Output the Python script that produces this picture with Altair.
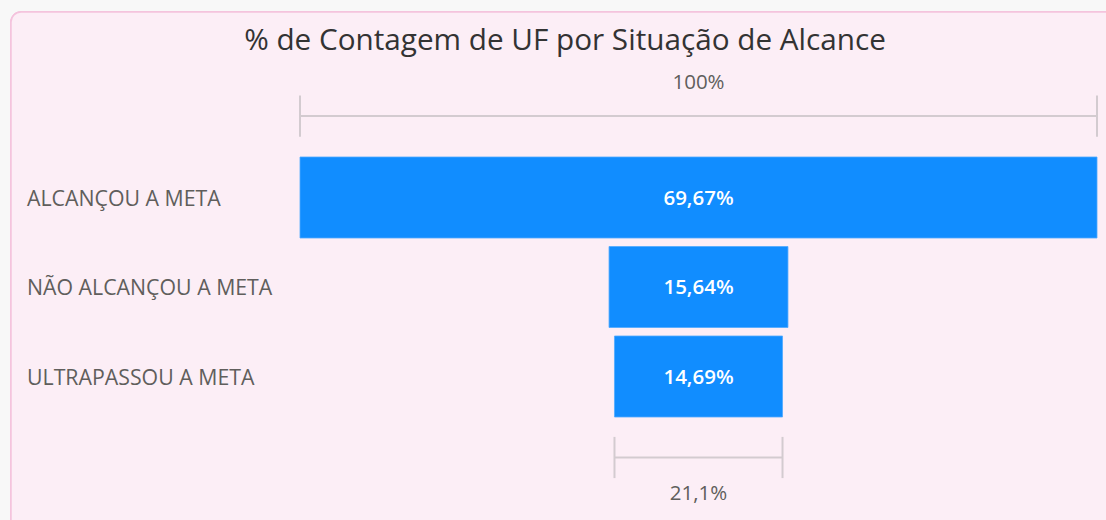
import altair as alt
import pandas as pd

# ---- data ----
categories = ["ALCANÇOU A META", "NÃO ALCANÇOU A META", "ULTRAPASSOU A META"]
values = [69.67, 15.64, 14.69]
rows = [1, 2, 3]
title_text = "% de Contagem de UF por Situação de Alcance"

def fmt(v, d):
    return f"{v:.{d}f}".replace(".", ",") + "%"

vmax = max(values)
first_pct = 100
last_pct = values[-1] / values[0] * 100

bars = pd.DataFrame({
    "cat": categories,
    "val": values,
    "row": rows,
    "lbl": [fmt(v, 2) for v in values],
})

HALF_BAR = 0.4525
TOP_Y = 0.09
BOT_Y = 3.905
TICK = 0.23

brackets = pd.DataFrame({
    "w": [vmax, values[-1]],
    "yb": [TOP_Y, BOT_Y],
    "lbl": [f"{first_pct}%", fmt(last_pct, 1)],
    "ly": [-0.28, 4.31],
})

BG = "#FCEEF6"
BORDER = "#F4C3DD"
BLUE = "#118DFF"
GRAY = "#D3CBD0"
FONT = "Open Sans"

xs = alt.Scale(domain=[-vmax / 2, vmax / 2], nice=False, zero=False)
ys = alt.Scale(domain=[-0.5, 4.5], nice=False, zero=False, reverse=True)

card = alt.Chart(bars).mark_rect(
    fill=BG, stroke=BORDER, strokeWidth=1.5, cornerRadius=10
).encode(
    x=alt.value(-289), x2=alt.value(840),
    y=alt.value(12 - 63.25), y2=alt.value(540),
)

bar_layer = alt.Chart(bars).transform_calculate(
    x0="-datum.val/2", x1="datum.val/2",
    y0=f"datum.row-{HALF_BAR}", y1=f"datum.row+{HALF_BAR}",
).mark_bar(color=BLUE, stroke="#4FA9FF", strokeWidth=0.8).encode(
    x=alt.X("x0:Q", scale=xs, axis=None),
    x2="x1:Q",
    y=alt.Y("y0:Q", scale=ys, axis=None),
    y2="y1:Q",
)

bar_text = alt.Chart(bars).mark_text(
    color="white", fontSize=20.5, font=FONT, fontWeight=600, baseline="middle", dy=1
).encode(
    x=alt.value(398.5),
    y=alt.Y("row:Q", scale=ys, axis=None),
    text="lbl:N",
)

cat_text = alt.Chart(bars).mark_text(
    color="#605E5C", fontSize=21.3, font=FONT, align="left", baseline="middle", dy=2
).encode(
    x=alt.value(-273),
    y=alt.Y("row:Q", scale=ys, axis=None),
    text="cat:N",
)

hline = alt.Chart(brackets).transform_calculate(
    x0="-datum.w/2", x1="datum.w/2"
).mark_rule(color=GRAY, strokeWidth=2).encode(
    x=alt.X("x0:Q", scale=xs, axis=None), x2="x1:Q",
    y=alt.Y("yb:Q", scale=ys, axis=None),
)

ticks_l = alt.Chart(brackets).transform_calculate(
    xx="-datum.w/2", y0=f"datum.yb-{TICK}", y1=f"datum.yb+{TICK}"
).mark_rule(color=GRAY, strokeWidth=2).encode(
    x=alt.X("xx:Q", scale=xs, axis=None),
    y=alt.Y("y0:Q", scale=ys, axis=None), y2="y1:Q",
)
ticks_r = alt.Chart(brackets).transform_calculate(
    xx="datum.w/2", y0=f"datum.yb-{TICK}", y1=f"datum.yb+{TICK}"
).mark_rule(color=GRAY, strokeWidth=2).encode(
    x=alt.X("xx:Q", scale=xs, axis=None),
    y=alt.Y("y0:Q", scale=ys, axis=None), y2="y1:Q",
)

br_text = alt.Chart(brackets).mark_text(
    color="#605E5C", fontSize=20.5, font=FONT, baseline="middle"
).encode(
    x=alt.value(398.5),
    y=alt.Y("ly:Q", scale=ys, axis=None),
    text="lbl:N",
)

title = alt.Chart(pd.DataFrame({"t": [title_text]})).mark_text(
    color="#333333", fontSize=29.7, font=FONT, baseline="middle"
).encode(
    x=alt.value(265), y=alt.value(40.5 - 63.25), text="t:N"
)

chart = alt.layer(
    card, bar_layer, bar_text, cat_text, hline, ticks_l, ticks_r, br_text, title
).properties(
    width=797, height=447.5,
    padding={"left": 300, "top": 63.25, "right": 9, "bottom": 9.25},
    autosize=alt.AutoSizeParams(type="none"),
    background="#F8F8F8",
).configure_view(stroke=None)

chart.save("out.html", embed_options={"renderer": "svg", "actions": False})
